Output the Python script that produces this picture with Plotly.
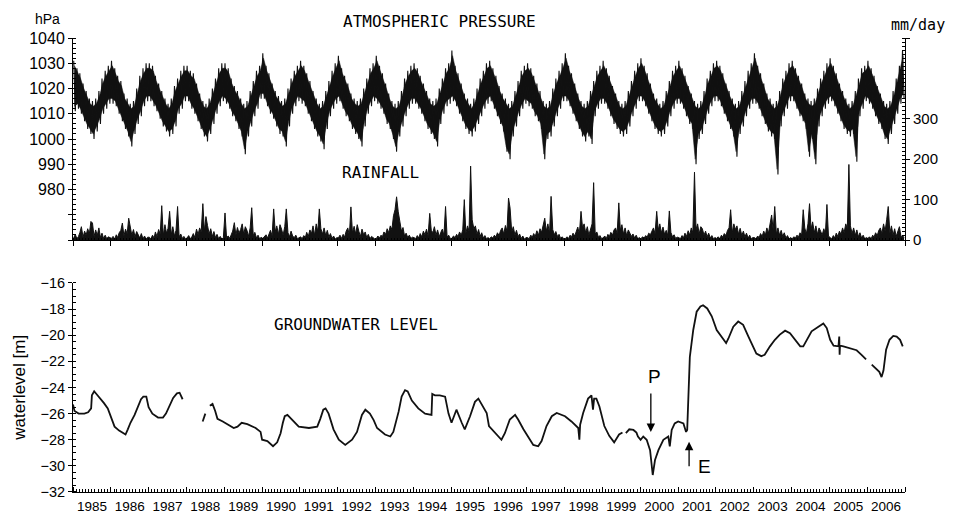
import plotly.graph_objects as go
from datetime import datetime, timedelta

# ---------------- data ----------------
YEARS = list(range(1985, 2007))

# monthly upper / lower envelope of the daily atmospheric pressure [hPa], Jan..Dec
press_hi = [
    [1031, 1028, 1026, 1022, 1019, 1016, 1015, 1016, 1019, 1024, 1027, 1029],  # 1985
    [1031, 1028, 1025, 1023, 1018, 1016, 1014, 1015, 1020, 1025, 1028, 1030],  # 1986
    [1030, 1029, 1025, 1022, 1019, 1016, 1014, 1016, 1021, 1024, 1027, 1029],  # 1987
    [1029, 1027, 1026, 1022, 1018, 1015, 1014, 1016, 1020, 1024, 1028, 1030],  # 1988
    [1030, 1028, 1024, 1021, 1019, 1016, 1014, 1015, 1019, 1023, 1027, 1029],  # 1989
    [1034, 1029, 1026, 1022, 1019, 1017, 1015, 1016, 1020, 1024, 1027, 1029],  # 1990
    [1031, 1029, 1026, 1023, 1019, 1016, 1014, 1015, 1019, 1023, 1027, 1030],  # 1991
    [1033, 1028, 1025, 1022, 1018, 1016, 1015, 1016, 1020, 1024, 1028, 1030],  # 1992
    [1033, 1029, 1026, 1022, 1018, 1015, 1014, 1015, 1019, 1024, 1027, 1029],  # 1993
    [1030, 1028, 1025, 1022, 1019, 1016, 1015, 1016, 1020, 1024, 1028, 1030],  # 1994
    [1035, 1029, 1026, 1022, 1018, 1016, 1014, 1016, 1020, 1024, 1027, 1030],  # 1995
    [1031, 1028, 1025, 1021, 1018, 1016, 1014, 1015, 1019, 1023, 1027, 1029],  # 1996
    [1030, 1028, 1025, 1022, 1019, 1015, 1014, 1015, 1020, 1024, 1027, 1030],  # 1997
    [1034, 1029, 1026, 1022, 1018, 1015, 1014, 1015, 1019, 1023, 1027, 1029],  # 1998
    [1031, 1028, 1025, 1021, 1018, 1015, 1014, 1015, 1019, 1023, 1027, 1030],  # 1999
    [1032, 1029, 1026, 1022, 1018, 1016, 1014, 1015, 1019, 1023, 1027, 1029],  # 2000
    [1031, 1028, 1025, 1021, 1018, 1015, 1014, 1015, 1019, 1024, 1027, 1030],  # 2001
    [1031, 1029, 1026, 1022, 1019, 1016, 1014, 1015, 1019, 1023, 1027, 1030],  # 2002
    [1034, 1029, 1026, 1022, 1018, 1016, 1014, 1015, 1019, 1024, 1027, 1030],  # 2003
    [1031, 1028, 1025, 1022, 1018, 1016, 1015, 1016, 1020, 1024, 1027, 1030],  # 2004
    [1032, 1029, 1026, 1022, 1019, 1016, 1014, 1015, 1019, 1024, 1028, 1029],  # 2005
    [1031, 1028, 1025, 1021, 1018, 1015, 1014, 1015, 1019, 1024, 1029, 1035],  # 2006
]
press_lo = [
    [1011, 1012, 1010, 1007, 1004, 1002, 1000, 1003, 1006, 1010, 1012, 1014],  # 1985
    [1014, 1013, 1010, 1007, 1004, 1001, 997, 1002, 1006, 1009, 1013, 1015],   # 1986
    [1015, 1013, 1011, 1008, 1005, 1003, 1001, 1002, 1005, 1010, 1012, 1015],  # 1987
    [1015, 1012, 1010, 1007, 1004, 1001, 999, 1002, 1006, 1010, 1013, 1015],   # 1988
    [1014, 1012, 1009, 1007, 1004, 1001, 994, 1001, 1005, 1009, 1012, 1016],   # 1989
    [1016, 1013, 1010, 1008, 1005, 1002, 1001, 997, 1005, 1010, 1013, 1015],   # 1990
    [1014, 1013, 1010, 1007, 1004, 1001, 999, 996, 1004, 1009, 1012, 1014],    # 1991
    [1015, 1012, 1009, 1007, 1004, 1002, 1000, 997, 1005, 1010, 1013, 1015],   # 1992
    [1014, 1012, 1010, 1006, 1004, 1000, 995, 1001, 1005, 1009, 1012, 1014],   # 1993
    [1014, 1012, 1010, 1007, 1004, 1002, 1000, 997, 1006, 1010, 1013, 1014],   # 1994
    [1015, 1013, 1010, 1007, 1004, 1002, 1001, 1003, 1006, 1009, 1012, 1014],  # 1995
    [1015, 1012, 1009, 1006, 1003, 995, 992, 1001, 1005, 1009, 1012, 1014],    # 1996
    [1013, 1012, 1009, 1007, 1004, 992, 1000, 1001, 1005, 1009, 1012, 1015],   # 1997
    [1015, 1013, 1010, 1007, 1004, 1001, 999, 1001, 998, 1009, 1012, 1014],    # 1998
    [1014, 1012, 1009, 1006, 1004, 1002, 1001, 1002, 1005, 1009, 1012, 1015],  # 1999
    [1015, 1013, 1010, 1007, 1004, 1002, 1001, 1002, 1005, 1009, 1012, 1014],  # 2000
    [1014, 1012, 1009, 1006, 1004, 990, 1000, 1002, 1006, 1010, 1013, 1015],   # 2001
    [1015, 1013, 1010, 1007, 1004, 1001, 993, 1002, 1005, 1009, 1012, 1014],   # 2002
    [1014, 1012, 1009, 1006, 1003, 1001, 1000, 986, 1005, 1009, 1012, 1015],   # 2003
    [1015, 1012, 1009, 1007, 1004, 993, 1000, 990, 1005, 1009, 1012, 1014],    # 2004
    [1015, 1013, 1010, 1007, 1004, 1002, 1001, 1002, 991, 1009, 1012, 1015],   # 2005
    [1014, 1012, 1009, 1006, 1004, 1000, 998, 1002, 1006, 1010, 1014, 1016],   # 2006
]

# half-monthly peak rainfall [mm/day] (24 values per year)
rain = [
    [5, 14, 3, 9, 18, 33, 7, 22, 12, 28, 16, 46, 42, 9, 25, 11, 30, 6, 17, 4, 12, 3, 8, 5],           # 1985
    [4, 9, 2, 13, 6, 18, 24, 42, 10, 27, 15, 54, 30, 12, 26, 8, 21, 14, 5, 16, 3, 10, 2, 7],           # 1986
    [7, 3, 12, 5, 20, 9, 26, 14, 85, 11, 38, 17, 29, 71, 13, 33, 10, 24, 83, 8, 15, 4, 9, 3],          # 1987
    [5, 11, 3, 8, 16, 6, 27, 13, 30, 19, 90, 22, 58, 36, 15, 28, 9, 21, 6, 14, 3, 9, 2, 6],            # 1988
    [67, 6, 10, 4, 15, 22, 43, 12, 31, 17, 26, 40, 14, 33, 24, 9, 30, 80, 11, 19, 5, 12, 3, 7],        # 1989
    [4, 9, 13, 5, 17, 24, 10, 77, 21, 35, 14, 38, 27, 12, 33, 77, 18, 8, 22, 10, 6, 12, 3, 5],         # 1990
    [8, 3, 11, 6, 19, 9, 25, 16, 35, 12, 40, 21, 77, 28, 15, 30, 11, 24, 7, 16, 4, 10, 2, 6],          # 1991
    [5, 12, 4, 14, 7, 22, 30, 11, 82, 18, 34, 15, 38, 22, 9, 27, 13, 20, 6, 14, 3, 9, 5, 3],           # 1992
    [3, 10, 5, 12, 8, 20, 14, 28, 18, 35, 26, 60, 75, 107, 70, 45, 22, 31, 10, 17, 6, 12, 4, 7],       # 1993
    [6, 3, 11, 5, 16, 8, 22, 13, 27, 10, 66, 24, 18, 33, 12, 25, 8, 19, 27, 11, 83, 7, 12, 4],         # 1994
    [4, 10, 6, 14, 8, 20, 12, 25, 100, 17, 35, 22, 183, 50, 28, 35, 14, 26, 9, 18, 5, 11, 3, 6],       # 1995
    [3, 8, 5, 12, 7, 18, 11, 24, 30, 15, 36, 22, 104, 79, 20, 33, 12, 24, 8, 15, 4, 10, 2, 6],         # 1996
    [6, 3, 12, 7, 16, 9, 23, 12, 28, 19, 35, 54, 22, 40, 17, 108, 26, 13, 21, 9, 14, 4, 8, 3],         # 1997
    [3, 8, 4, 12, 7, 17, 10, 24, 32, 14, 71, 30, 40, 18, 33, 12, 28, 40, 142, 15, 20, 7, 11, 4],       # 1998
    [5, 10, 4, 14, 8, 19, 12, 25, 30, 16, 92, 24, 38, 15, 30, 11, 25, 18, 9, 15, 5, 12, 3, 6],         # 1999
    [3, 8, 5, 11, 7, 17, 13, 22, 30, 15, 71, 25, 40, 18, 32, 14, 24, 11, 72, 19, 8, 13, 4, 7],         # 2000
    [6, 3, 11, 6, 17, 9, 23, 12, 30, 18, 168, 26, 40, 15, 33, 28, 12, 22, 8, 17, 5, 11, 3, 6],         # 2001
    [4, 8, 3, 12, 7, 16, 11, 24, 30, 75, 18, 40, 26, 35, 14, 29, 11, 22, 8, 17, 5, 12, 3, 6],          # 2002
    [6, 3, 10, 6, 16, 9, 22, 12, 30, 17, 40, 62, 25, 83, 15, 30, 12, 24, 9, 18, 5, 11, 3, 6],          # 2003
    [3, 8, 5, 12, 7, 18, 13, 75, 30, 15, 40, 90, 27, 45, 18, 35, 14, 30, 22, 12, 28, 15, 88, 10],      # 2004
    [6, 3, 11, 5, 17, 9, 22, 14, 30, 18, 40, 28, 187, 35, 16, 30, 12, 25, 8, 18, 5, 12, 3, 6],         # 2005
    [4, 8, 3, 12, 7, 18, 11, 24, 30, 16, 40, 22, 50, 83, 17, 35, 12, 28, 9, 20, 33, 8, 12, 5],         # 2006
]

# groundwater level [m]; decimal year, None marks a gap in the record
gw_year = [
    1985.00, 1985.04, 1985.15, 1985.30, 1985.40, 1985.48, 1985.50, 1985.56, 1985.62, 1985.71,
    1985.82, 1985.92, 1986.02, 1986.10, 1986.22, 1986.32, 1986.39, 1986.45, 1986.52, 1986.63,
    1986.72, 1986.80, 1986.86, 1986.94, 1987.00, 1987.10, 1987.25, 1987.38, 1987.46, 1987.55,
    1987.65, 1987.75, 1987.82, 1987.90, None,
    1988.43, 1988.50, None,
    1988.62, 1988.69, 1988.76, 1988.82, 1988.96, 1989.13, 1989.25, 1989.35, 1989.46, 1989.61,
    1989.75, 1989.83, 1989.96, 1990.00, 1990.14, 1990.22, 1990.29, 1990.40, 1990.49, 1990.55,
    1990.60, 1990.67, 1990.80, 1990.97, 1991.24, 1991.46, 1991.54, 1991.62, 1991.68, 1991.76,
    1991.89, 1992.03, 1992.20, 1992.38, 1992.51, 1992.64, 1992.73, 1992.85, 1992.95, 1993.04,
    1993.25, 1993.39, 1993.47, 1993.61, 1993.69, 1993.78, 1993.85, 1993.96, 1994.13, 1994.31,
    1994.48, 1994.50, 1994.57, 1994.70, 1994.84, 1994.93, 1995.01, 1995.14, 1995.28, 1995.36,
    1995.50, 1995.63, 1995.72, 1995.85, 1995.94, 1996.00, 1996.16, 1996.33, 1996.42, 1996.55,
    1996.69, 1996.77, 1996.91, 1997.04, 1997.17, 1997.30, 1997.39, 1997.52, 1997.66, 1997.79,
    1998.01, 1998.18, 1998.36, 1998.39, 1998.41, 1998.49, 1998.62, 1998.71, 1998.75, 1998.78,
    1998.84, 1998.92, 1999.05, 1999.18, 1999.31, 1999.44, 1999.53, None,
    1999.62, 1999.71, 1999.82, 1999.90, 1999.94, 2000.01, 2000.08, 2000.17, 2000.26, 2000.30,
    2000.33, 2000.39, 2000.48, 2000.61, 2000.74, 2000.78, 2000.83, 2000.91, 2001.00, 2001.14,
    2001.21, 2001.24, 2001.27, 2001.31, 2001.40, 2001.49, 2001.59, 2001.66, 2001.77, 2001.89,
    2002.02, 2002.15, 2002.27, 2002.33, 2002.46, 2002.59, 2002.72, 2002.86, 2002.99, 2003.07,
    2003.20, 2003.29, 2003.43, 2003.56, 2003.69, 2003.83, 2003.96, 2004.09, 2004.23, 2004.31,
    2004.40, 2004.53, 2004.71, 2004.84, 2004.93, 2005.02, 2005.11, 2005.24, 2005.26, 2005.27,
    2005.28, 2005.37, 2005.54, 2005.72, 2005.85, 2005.97, None,
    2006.12, 2006.21, 2006.32, 2006.38, 2006.43, 2006.50, 2006.59, 2006.69, 2006.78, 2006.87,
    2006.94,
]
gw_level = [
    -25.3, -25.8, -26.0, -26.0, -25.9, -25.6, -24.6, -24.3, -24.5, -24.8,
    -25.2, -25.6, -26.4, -27.0, -27.3, -27.5, -27.6, -27.2, -26.7, -26.1,
    -25.5, -24.9, -24.7, -24.7, -25.5, -26.0, -26.3, -26.3, -26.0, -25.4,
    -24.8, -24.45, -24.4, -24.9, None,
    -26.6, -26.0, None,
    -25.4, -25.25, -25.8, -26.4, -26.6, -26.9, -27.1, -27.0, -26.7, -26.8,
    -27.0, -27.1, -27.4, -28.0, -28.1, -28.3, -28.5, -28.2, -27.5, -26.7,
    -26.2, -26.1, -26.5, -27.0, -27.1, -27.0, -26.4, -25.7, -25.6, -26.0,
    -27.2, -28.0, -28.4, -28.0, -27.4, -26.1, -25.7, -26.0, -26.5, -27.1,
    -27.6, -27.75, -27.4, -25.85, -24.7, -24.2, -24.3, -25.0, -25.6, -26.0,
    -26.1, -24.5, -24.6, -24.6, -24.7, -26.0, -26.7, -25.7, -26.7, -27.2,
    -26.2, -25.1, -24.85, -25.45, -25.95, -26.95, -27.5, -28.0, -27.5, -26.45,
    -26.1, -26.45, -27.2, -27.85, -28.4, -28.5, -28.1, -26.95, -26.2, -25.95,
    -26.2, -26.6, -27.1, -28.0, -26.85, -25.95, -24.85, -24.6, -25.7, -24.85,
    -24.85, -25.45, -26.95, -27.7, -28.2, -27.6, -27.45, None,
    -27.5, -27.2, -27.25, -27.45, -27.75, -28.0, -27.75, -28.0, -28.8, -30.3,
    -30.7, -29.55, -28.8, -28.0, -27.75, -28.5, -27.25, -26.75, -26.6, -26.75,
    -27.4, -27.25, -24.2, -21.65, -19.6, -18.2, -17.8, -17.7, -17.95, -18.55,
    -19.6, -20.1, -20.6, -20.25, -19.35, -18.95, -19.2, -20.1, -20.85, -21.4,
    -21.6, -21.5, -20.85, -20.35, -19.95, -19.65, -19.85, -20.35, -20.85, -20.85,
    -20.35, -19.7, -19.35, -19.1, -19.45, -20.35, -20.8, -20.85, -20.1, -21.5,
    -20.8, -20.85, -21.0, -21.15, -21.5, -21.85, None,
    -22.25, -22.5, -22.8, -23.2, -22.7, -21.1, -20.35, -20.05, -20.1, -20.35,
    -20.85,
]

# annotation arrows (decimal year, level at arrow tip)
arrow_P = (2000.28, -27.4)
arrow_E = (2001.29, -28.15)

press_ticks = [960, 970, 980, 990, 1000, 1010, 1020, 1030, 1040]
press_ticktext = ["", "", "980", "990", "1000", "1010", "1020", "1030", "1040"]
rain_ticks = [0, 100, 200, 300, 500]
rain_ticktext = ["0", "100", "200", "300", ""]


# ---------------- helpers ----------------
def to_dt(y):
    if y is None:
        return None
    yr = int(y)
    start = datetime(yr, 1, 1)
    ndays = (datetime(yr + 1, 1, 1) - start).days
    return start + timedelta(days=(y - yr) * ndays)


# zig-zag daily-like trace and envelope band
pres_x, pres_y = [], []
env_x, env_hi, env_lo = [], [], []
for yi, yr in enumerate(YEARS):
    for m in range(12):
        pres_x.append(datetime(yr, m + 1, 8))
        pres_y.append(press_hi[yi][m])
        pres_x.append(datetime(yr, m + 1, 23))
        pres_y.append(press_lo[yi][m])
        env_x.append(datetime(yr, m + 1, 15))
        env_hi.append(press_hi[yi][m] - 2)
        env_lo.append(press_lo[yi][m] + 2)

rain_x, rain_y = [], []
for yi, yr in enumerate(YEARS):
    for i, v in enumerate(rain[yi]):
        rain_x.append(datetime(yr, i // 2 + 1, 8 if i % 2 == 0 else 23))
        rain_y.append(v)

gw_x = [to_dt(v) for v in gw_year]

# ---------------- figure ----------------
BLACK = "#111111"
fig = go.Figure()
fig.add_trace(go.Scatter(x=env_x, y=env_hi, mode="lines", xaxis="x", yaxis="y",
                         line=dict(color=BLACK, width=0.5), hoverinfo="skip", showlegend=False))
fig.add_trace(go.Scatter(x=env_x, y=env_lo, mode="lines", xaxis="x", yaxis="y",
                         fill="tonexty", fillcolor=BLACK,
                         line=dict(color=BLACK, width=0.5), hoverinfo="skip", showlegend=False))
fig.add_trace(go.Scatter(x=pres_x, y=pres_y, mode="lines", xaxis="x", yaxis="y",
                         line=dict(color=BLACK, width=1.1), hoverinfo="skip", showlegend=False))
fig.add_trace(go.Scatter(x=rain_x, y=rain_y, mode="lines", xaxis="x", yaxis="y2",
                         fill="tozeroy", fillcolor=BLACK,
                         line=dict(color=BLACK, width=1.0), hoverinfo="skip", showlegend=False))
fig.add_trace(go.Scatter(x=gw_x, y=gw_level, mode="lines", xaxis="x2", yaxis="y4",
                         line=dict(color=BLACK, width=1.8), connectgaps=False,
                         hoverinfo="skip", showlegend=False))

TICKFONT = "Liberation Sans, Arial, sans-serif"
MONO = "DejaVu Sans Mono, monospace"
XR = ["1985-01-01", "2007-01-01"]
TOP = [0.555, 1.0]
BOT = [0.0, 0.4604]

common_x = dict(type="date", range=XR, tick0="1985-01-01", dtick="M12", showgrid=False,
                zeroline=False, tickcolor="black", linecolor="black", linewidth=1)

fig.update_layout(
    template="none",
    width=954, height=515,
    margin=dict(l=73, r=49, t=38, b=23),
    paper_bgcolor="white", plot_bgcolor="white",
    showlegend=False,
    xaxis=dict(domain=[0, 1], anchor="y", ticks="outside", ticklen=5, showticklabels=False,
               showline=True,
               minor=dict(dtick="M1", ticks="inside", ticklen=2, tickcolor="black", showgrid=False),
               **common_x),
    xaxis2=dict(domain=[0, 1], anchor="y4", ticks="inside", ticklen=5, showline=True,
                tickformat="%Y", ticklabelmode="period", ticklabelstandoff=2,
                tickfont=dict(family=TICKFONT, size=13.5, color="black"),
                minor=dict(dtick="M1", ticks="inside", ticklen=3, tickcolor="black", showgrid=False),
                **common_x),
    xaxis3=dict(overlaying="x2", anchor="y4", ticks="outside", ticklen=4, showticklabels=False,
                showline=False, **common_x),
    yaxis=dict(domain=TOP, anchor="x", range=[960, 1040], tickmode="array",
               tickvals=press_ticks, ticktext=press_ticktext, ticks="outside", ticklen=4,
               tickcolor="black", showline=True, linecolor="black", linewidth=1,
               showgrid=False, zeroline=False,
               tickfont=dict(family=TICKFONT, size=16, color="black"),
               minor=dict(tick0=960, dtick=2, ticks="inside", ticklen=3, tickcolor="black",
                          showgrid=False)),
    yaxis3=dict(overlaying="y", anchor="x", side="left", range=[960, 1040], tickmode="array",
                tickvals=press_ticks, ticks="inside", ticklen=4, tickcolor="black",
                showticklabels=False, showline=False, showgrid=False, zeroline=False),
    yaxis2=dict(overlaying="y", anchor="x", side="right", range=[0, 500], tickmode="array",
                tickvals=rain_ticks, ticktext=rain_ticktext, ticks="outside", ticklen=4,
                tickcolor="black", showline=True, linecolor="black", linewidth=1,
                showgrid=False, zeroline=False,
                tickfont=dict(family=TICKFONT, size=15, color="black"),
                minor=dict(tick0=0, dtick=10, ticks="inside", ticklen=3, tickcolor="black",
                           showgrid=False)),
    yaxis4=dict(domain=BOT, anchor="x2", range=[-32, -16], tick0=-32, dtick=2,
                ticks="outside", ticklen=4, tickcolor="black", showline=True,
                linecolor="black", linewidth=1, showgrid=False, zeroline=False,
                tickfont=dict(family=TICKFONT, size=14.5, color="black"),
                minor=dict(tick0=-32, dtick=0.5, ticks="inside", ticklen=3, tickcolor="black",
                           showgrid=False)),
    yaxis5=dict(overlaying="y4", anchor="x2", side="left", range=[-32, -16], tick0=-32, dtick=2,
                ticks="inside", ticklen=4, tickcolor="black", showticklabels=False,
                showline=False, showgrid=False, zeroline=False),
)


def px_to_paper(xp, yp):
    return (xp - 73) / 832.0, (492 - yp) / 454.0


texts = [
    ("hPa", 47.5, 18.5, TICKFONT, 14, 0),
    ("ATMOSPHERIC PRESSURE", 439, 21.5, MONO, 16, 0),
    ("mm/day", 918, 25, MONO, 15, 0),
    ("RAINFALL", 380.5, 172.5, MONO, 16, 0),
    ("GROUNDWATER LEVEL", 356, 324, MONO, 16, 0),
    ("waterlevel [m]", 18.7, 388, TICKFONT, 17, -90),
    ("P", 654, 377, TICKFONT, 19, 0),
    ("E", 704, 466, TICKFONT, 19, 0),
]
for t, xp, yp, fam, sz, ang in texts:
    ax_, ay_ = px_to_paper(xp, yp)
    fig.add_annotation(text=t, x=ax_, y=ay_, xref="paper", yref="paper",
                       xanchor="center", yanchor="middle", showarrow=False,
                       textangle=ang, font=dict(family=fam, size=sz, color="black"))

for (yr_, lev), ay_off in ((arrow_P, -40), (arrow_E, 26)):
    fig.add_annotation(x=to_dt(yr_), y=lev, xref="x2", yref="y4", text="",
                       showarrow=True, arrowhead=2, arrowsize=1.3, arrowwidth=1.3,
                       arrowcolor="black", ax=0, ay=ay_off, standoff=0)

fig.write_html("out.html")
